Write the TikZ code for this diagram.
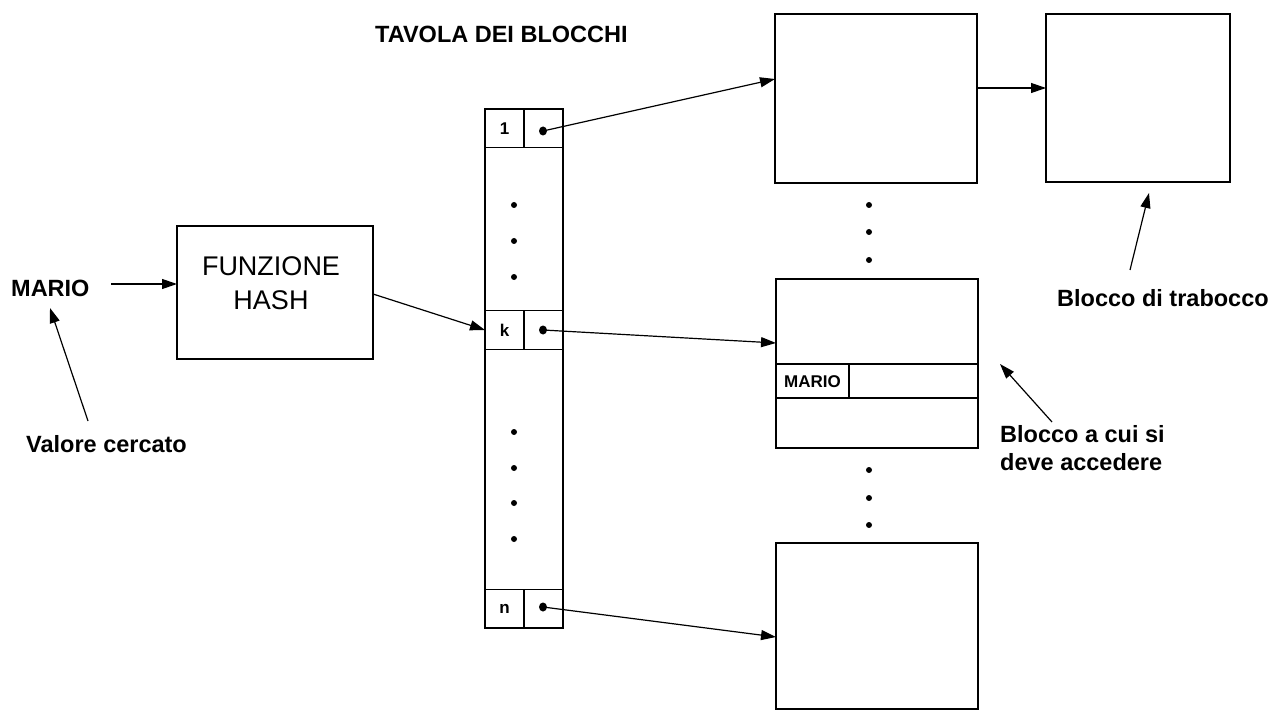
\documentclass[tikz,border=0pt]{standalone}
\usepackage{fontspec}
\setmainfont{Liberation Sans}
\usetikzlibrary{arrows.meta,shapes.geometric}
\begin{document}
\begin{tikzpicture}[x=1pt,y=-1pt,
  box/.style={draw, line width=1.5pt, rectangle, inner sep=0pt, minimum width=#1},
  cell/.style={draw, line width=1.2pt, rectangle, inner sep=0pt, minimum width=39pt, minimum height=38.5pt, font=\bfseries\fontsize{17}{20}\selectfont},
  arr/.style={line width=1.2pt, -{Triangle[length=15pt,width=10pt]}},
  lbl/.style={anchor=base west, inner sep=0pt, font=\bfseries\fontsize{23.5}{28}\selectfont, align=left},
  bul/.style={ellipse, fill=black, inner sep=0pt, minimum width=8pt, minimum height=9pt},
  dotm/.style={circle, fill=black, inner sep=0pt, minimum size=6pt}]
\useasboundingbox (0,0) rectangle (1276,711);

% labels
\node[lbl] (title) at (375,43) {TAVOLA DEI BLOCCHI};
\node[lbl] (mario) at (11,296) {MARIO};
\node[lbl] (valore) at (26,452) {Valore cercato};
\node[lbl] (trab) at (1057,306) {Blocco di trabocco};
\node[lbl] (acc) at (1000,470) {Blocco a cui si\\deve accedere};

% hash box
\node[box=196pt, minimum height=133pt] (hash) at (275,292.5) {};
\node[anchor=base, align=center, inner sep=0pt, font=\fontsize{27}{34}\selectfont] (hashtxt) at (271,309) {FUNZIONE\\HASH};

% table of blocks
\node[box=78pt, minimum height=519pt, line width=1.2pt] (tab) at (524,368.5) {};
\node[cell] (l1) at (504.5,128.5) {1};
\node[cell] (p1) at (543.5,128.5) {};
\node[cell] (lk) at (504.5,330) {k};
\node[cell] (pk) at (543.5,330) {};
\node[cell] (ln) at (504.5,608.5) {n};
\node[cell] (pn) at (543.5,608.5) {};
\node[bul] (b1) at (543,131) {};
\node[bul] (bk) at (543,330) {};
\node[bul] (bn) at (543,607) {};
\foreach \y [count=\i] in {205,241,277,432,468,503,539}
  \node[dotm] (td\i) at (514,\y) {};

% blocks
\node[box=202pt, minimum height=169pt] (blk1) at (876,98.5) {};
\node[box=184pt, minimum height=168pt] (ovf) at (1138,98) {};
\node[box=202pt, minimum height=169pt] (blkk) at (877,363.5) {};
\node[box=202pt, minimum height=166pt] (blkn) at (877,626) {};
\draw[line width=1.2pt] (blkk.west |- 0,364) -- (blkk.east |- 0,364);
\draw[line width=1.2pt] (blkk.west |- 0,398) -- (blkk.east |- 0,398);
\draw[line width=1.2pt] (849,364) -- (849,398);
\node[inner sep=0pt, font=\bfseries\fontsize{17}{20}\selectfont] (rec) at (812.5,382) {MARIO};
\foreach \y [count=\i] in {205,232,260}
  \node[dotm] (bd\i) at (869,\y) {};
\foreach \y [count=\i] in {470,498,525}
  \node[dotm] (be\i) at (869,\y) {};

% connector endpoints
\coordinate (m0) at (111,284);
\coordinate (m1) at (177,284);
\coordinate (v0) at (88,421);
\coordinate (v1) at (50,308);
\coordinate (h0) at (373,294);
\coordinate (h1) at (485,330);
\coordinate (t1) at (775,79);
\coordinate (tk) at (776,343);
\coordinate (tn) at (776,637);
\coordinate (o0) at (977,88);
\coordinate (o1) at (1046,88);
\coordinate (tr0) at (1130,270);
\coordinate (tr1) at (1149,193);
\coordinate (ac0) at (1052,422);
\coordinate (ac1) at (1000,364);

\draw[arr] (m0) -- (m1);
\draw[arr] (v0) -- (v1);
\draw[arr] (h0) -- (h1);
\draw[arr] (b1.center) -- (t1);
\draw[arr] (bk.center) -- (tk);
\draw[arr] (bn.center) -- (tn);
\draw[arr] (o0) -- (o1);
\draw[arr] (tr0) -- (tr1);
\draw[arr] (ac0) -- (ac1);
\end{tikzpicture}
\end{document}
